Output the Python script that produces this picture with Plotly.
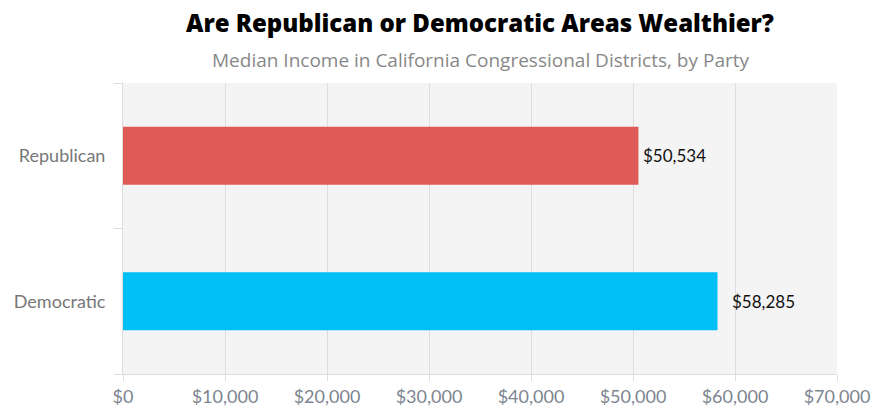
import plotly.graph_objects as go

categories = ["Republican", "Democratic"]
values = [50534, 58285]
colors = ["#df5b57", "#02bff6"]
tick_vals = [0, 10000, 20000, 30000, 40000, 50000, 60000, 70000]
tick_text = ["$0", "$10,000", "$20,000", "$30,000", "$40,000", "$50,000", "$60,000", "$70,000"]
labels = ["${:,}".format(v) for v in values]

# pixel gap between each bar end and its value label (style only)
label_gaps = [3, 12]

fig = go.Figure(go.Bar(
    x=values, y=categories, orientation="h",
    marker=dict(color=colors, line=dict(width=0)),
    width=0.4, hoverinfo="x+y",
))

for cat, val, lab, gap in zip(categories, values, labels, label_gaps):
    fig.add_annotation(x=val, y=cat, text=lab, xref="x", yref="y",
                       xanchor="left", yanchor="middle", xshift=gap,
                       showarrow=False,
                       font=dict(family="Lato", size=17, color="#111111"))

fig.update_layout(
    width=885, height=417,
    margin=dict(l=123, r=48, t=83, b=43),
    paper_bgcolor="white", plot_bgcolor="#f4f4f4",
    showlegend=False,
    font=dict(family="Lato"),
)
fig.update_xaxes(
    range=[0, 70000], tickvals=tick_vals, ticktext=tick_text,
    showgrid=True, gridcolor="#dddddd", gridwidth=1,
    showline=True, linecolor="#dddddd", linewidth=1,
    ticks="outside", ticklen=6, tickcolor="#dddddd",
    tickfont=dict(family="Lato", size=18, color="#7d8590"),
    zeroline=False, fixedrange=True, automargin=False,
)
fig.update_yaxes(
    categoryorder="array", categoryarray=categories[::-1],
    tickson="boundaries", ticks="outside", ticklen=8, tickcolor="#dddddd",
    showline=True, linecolor="#dddddd", linewidth=1,
    showgrid=False, zeroline=False, automargin=False,
    tickfont=dict(family="Lato", size=18, color="#777777"),
    ticklabelstandoff=13,
)
fig.add_annotation(text="Are Republican or Democratic Areas Wealthier?",
                   xref="paper", yref="paper", x=0.5, y=1, yshift=61,
                   xanchor="center", yanchor="middle", showarrow=False,
                   font=dict(family="Open Sans", size=24, color="#000000", weight=800))
fig.add_annotation(text="Median Income in California Congressional Districts, by Party",
                   xref="paper", yref="paper", x=0.5, y=1, yshift=23,
                   xanchor="center", yanchor="middle", showarrow=False,
                   font=dict(family="Open Sans", size=19, color="#888888"))

fig.write_html("out.html", config={"displayModeBar": False},
               post_script="document.body.style.margin='0';")
